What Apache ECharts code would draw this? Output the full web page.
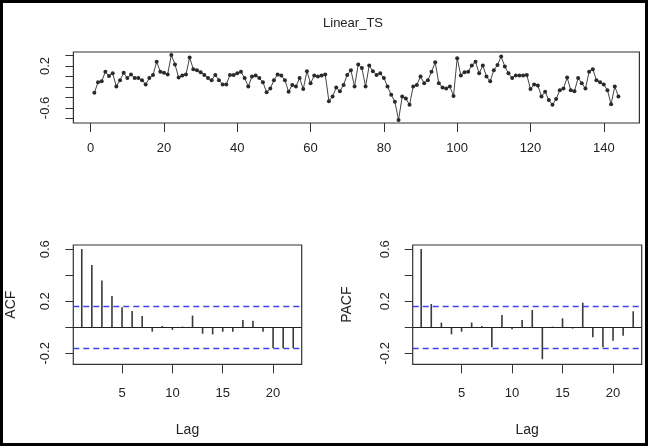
<!DOCTYPE html>
<html>
<head>
<meta charset="utf-8">
<script src="https://cdn.jsdelivr.net/npm/echarts@6/dist/echarts.min.js"></script>
<style>
  html, body { margin: 0; padding: 0; background: #fff; }
  #chart { width: 651px; height: 448px; }
</style>
</head>
<body>
<div id="chart"></div>
<script>
// series values (index 1..144)
const linearTs = [
  -0.31, -0.11, -0.09, 0.09, 0.01, 0.06, -0.19, -0.07, 0.07, -0.03,
  0.04, -0.03, -0.03, -0.07, -0.15, -0.03, 0.03, 0.28, 0.09, 0.07,
  0.04, 0.41, 0.23, -0.02, 0.02, 0.04, 0.36, 0.14, 0.12, 0.08,
  0.03, -0.03, -0.07, 0.03, -0.07, -0.15, -0.15, 0.03, 0.03, 0.06,
  0.09, -0.03, -0.19, 0.0, 0.02, -0.03, -0.11, -0.30, -0.23, -0.07,
  0.04, 0.02, -0.07, -0.29, -0.16, -0.19, -0.03, -0.24, 0.10, -0.13,
  0.02, 0.0, 0.02, 0.04, -0.47, -0.38, -0.21, -0.28, -0.16, 0.03,
  0.12, -0.19, 0.23, 0.16, -0.19, 0.21, 0.10, 0.03, 0.06, -0.03,
  -0.19, -0.35, -0.48, -0.83, -0.38, -0.42, -0.54, -0.19, -0.16, 0.0,
  -0.13, -0.07, 0.09, 0.27, -0.13, -0.21, -0.23, -0.19, -0.37, 0.35,
  0.02, 0.08, 0.09, 0.21, 0.28, 0.06, 0.21, 0.0, -0.09, 0.12,
  0.22, 0.38, 0.19, 0.06, -0.03, 0.02, 0.02, 0.02, 0.03, -0.24,
  -0.15, -0.17, -0.38, -0.29, -0.45, -0.54, -0.43, -0.26, -0.23, -0.02,
  -0.26, -0.28, -0.03, -0.13, -0.23, 0.09, 0.14, -0.07, -0.11, -0.15,
  -0.26, -0.53, -0.19, -0.38
];

const lags = [1, 2, 3, 4, 5, 6, 7, 8, 9, 10, 11, 12, 13, 14, 15, 16, 17, 18, 19, 20, 21, 22];
const acfValues = [0.602, 0.479, 0.359, 0.241, 0.154, 0.125, 0.087, -0.034, 0.01, -0.02, 0.005,
  0.09, -0.05, -0.055, -0.035, -0.035, 0.056, 0.05, -0.035, -0.16, -0.16, -0.16];
const pacfValues = [0.602, 0.179, 0.036, -0.054, -0.034, 0.036, 0.01, -0.154, 0.095, -0.015, 0.056,
  0.133, -0.246, 0.005, 0.069, -0.01, 0.189, -0.077, -0.154, -0.103, -0.065, 0.123];
const ciBound = 0.164;

const tsXTicks = [0, 20, 40, 60, 80, 100, 120, 140];
const tsYTicks = [-0.8, -0.6, -0.4, -0.2, 0, 0.2, 0.4];
const tsYLabels = [-0.6, 0.2];
const lagTicks = [5, 10, 15, 20];
const corYTicks = [-0.2, 0, 0.2, 0.4, 0.6];
const corYLabels = [-0.2, 0.2, 0.6];

const FONT = 'Liberation Sans';
const INK = '#333';

function xAxisFor(gridIndex, min, max, ticks, name, margin) {
  return {
    type: 'value', gridIndex: gridIndex, min: min, max: max, position: 'bottom',
    axisLine: { show: false, onZero: false },
    splitLine: { show: false },
    axisTick: { show: true, length: 9, customValues: ticks, lineStyle: { color: INK } },
    axisLabel: { customValues: ticks, margin: margin, fontFamily: FONT, fontSize: 13, color: '#222' },
    name: name, nameLocation: 'middle', nameGap: 59,
    nameTextStyle: { fontFamily: FONT, fontSize: 14, color: '#222' }
  };
}

function yAxisFor(gridIndex, min, max, ticks, labels, name, gap) {
  return {
    type: 'value', gridIndex: gridIndex, min: min, max: max, position: 'left',
    axisLine: { show: false, onZero: false },
    splitLine: { show: false },
    axisTick: { show: true, length: 8, customValues: ticks, lineStyle: { color: INK } },
    axisLabel: { customValues: labels, rotate: 90, margin: 21, fontFamily: FONT, fontSize: 13, color: '#222' },
    name: name, nameLocation: 'middle', nameGap: gap, nameRotate: 90,
    nameTextStyle: { fontFamily: FONT, fontSize: 14, color: '#222' }
  };
}

// vertical spike from 0 to the value, R style
function spikes(params, api) {
  const p0 = api.coord([api.value(0), 0]);
  const p1 = api.coord([api.value(0), api.value(1)]);
  return {
    type: 'line',
    shape: { x1: p0[0], y1: p0[1], x2: p1[0], y2: p1[1] },
    style: { stroke: '#3a3a3a', lineWidth: 1.6 }
  };
}

function corSeries(idx, values) {
  return {
    type: 'custom', xAxisIndex: idx, yAxisIndex: idx,
    renderItem: spikes,
    data: lags.map((l, i) => [l, values[i]]),
    silent: true,
    markLine: {
      silent: true, symbol: 'none', label: { show: false },
      data: [
        { yAxis: 0, lineStyle: { color: '#222', type: 'solid', width: 1.2 } },
        { yAxis: ciBound, lineStyle: { color: '#4040ee', type: [6, 4], width: 1.3 } },
        { yAxis: -ciBound, lineStyle: { color: '#4040ee', type: [6, 4], width: 1.3 } }
      ]
    }
  };
}

const chart = echarts.init(document.getElementById('chart'), null, { renderer: 'canvas' });

chart.setOption({
  animation: false,
  backgroundColor: '#fff',
  title: {
    text: 'Linear_TS', left: 348, top: 12, textAlign: 'center',
    textStyle: { fontFamily: FONT, fontSize: 13, fontWeight: 'normal', color: '#222' }
  },
  graphic: [{
    type: 'rect', silent: true, z: 100,
    shape: { x: 1.5, y: 1.5, width: 645, height: 443 },
    style: { fill: null, stroke: '#000', lineWidth: 3 }
  }],
  grid: [
    { left: 73.4, top: 52, width: 566, height: 71, show: true, borderColor: INK, borderWidth: 1.2 },
    { left: 73.3, top: 245, width: 228.4, height: 119.3, show: true, borderColor: INK, borderWidth: 1.2 },
    { left: 412.7, top: 245, width: 229, height: 119.3, show: true, borderColor: INK, borderWidth: 1.2 }
  ],
  xAxis: [
    xAxisFor(0, -4.72, 149.72, tsXTicks, '', 19),
    xAxisFor(1, 0.16, 22.84, lagTicks, 'Lag', 23),
    xAxisFor(2, 0.16, 22.84, lagTicks, 'Lag', 23)
  ],
  yAxis: [
    yAxisFor(0, -0.886, 0.467, tsYTicks, tsYLabels, '', 40),
    yAxisFor(1, -0.285, 0.633, corYTicks, corYLabels, 'ACF', 55),
    yAxisFor(2, -0.285, 0.633, corYTicks, corYLabels, 'PACF', 59)
  ],
  series: [
    {
      type: 'line', xAxisIndex: 0, yAxisIndex: 0,
      data: linearTs.map((v, i) => [i + 1, v]),
      symbol: 'circle', symbolSize: 4,
      lineStyle: { color: '#444', width: 1 },
      itemStyle: { color: '#2a2a2a' }
    },
    corSeries(1, acfValues),
    corSeries(2, pacfValues)
  ]
});
</script>
</body>
</html>
